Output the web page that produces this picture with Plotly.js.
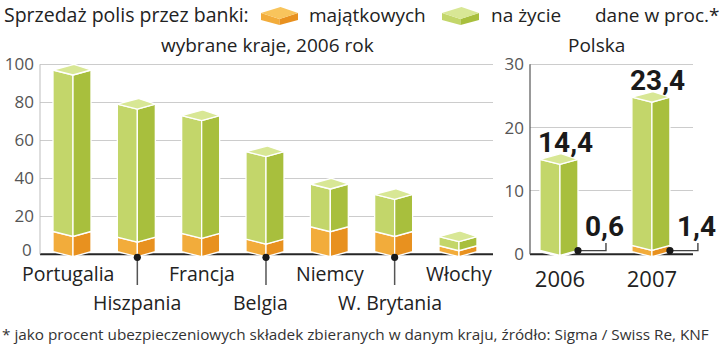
<!DOCTYPE html>
<html><head><meta charset="utf-8">
<script src="https://cdn.plot.ly/plotly-3.0.1.min.js"></script>
<style>html,body{margin:0;padding:0;background:#fff}</style>
</head><body><div id="chart" style="width:720px;height:352px"></div>
<script>
// ---------- data ----------
const countries = ['Portugalia','Hiszpania','Francja','Belgia','Niemcy','W. Brytania','Włochy'];
const propertyShare = [12, 9, 11, 8, 14.5, 12, 4.5];     // majątkowych
const lifeShare     = [85, 70, 62, 46, 22.5, 19.5, 4.8]; // na życie
const years = ['2006', '2007'];
const plProperty = [0.6, 1.4];
const plLife = [14.4, 23.4];
const leftTicks = [0, 20, 40, 60, 80, 100];
const rightTicks = [0, 10, 20, 30];

// ---------- geometry / style ----------
const W = 720, H = 352;
const px = x => x / W, py = y => 1 - y / H;
const baseY = 254.3, topY = 64.3, domBot = 262, domTop = 58;
const FONT = 'Open Sans';
const G = {l:'#c3d66a', r:'#a8bf3d', t:'#d8e795'};
const O = {l:'#f2ac3b', r:'#e8911f', t:'#f8c45c'};

function panel(x0, x1, xr, vmax){
  const ppy = (baseY - topY) / vmax;
  const yr = [-(domBot - baseY) / ppy, vmax + (topY - domTop) / ppy];
  const ppx = (x1 - x0) / (xr[1] - xr[0]);
  return {x0, x1, xr, yr, ppx, ppy, toPx: v => x0 + (v - xr[0]) * ppx};
}
const PL = panel(40, 493, [-0.513, 6.529], 100);
const PR = panel(530, 693, [-0.326, 1.447], 30);

function faces(v0s, v1s, P){
  const wl = 20 / P.ppx, wr = 18 / P.ppx, bx = 1 / P.ppx;
  const d = 5 / P.ppy, b = 5.7 / P.ppy, lift = 2.6 / P.ppy;
  const L = {x:[], y:[]}, R = {x:[], y:[]}, T = {x:[], y:[]};
  v0s.forEach((v0, i) => {
    const lo = v0 === 0 ? lift : v0, hi = v1s[i];
    L.x.push(i-wl, i, i, i-wl, i-wl, null); L.y.push(hi, hi-d, lo-d, lo, hi, null);
    R.x.push(i, i+wr, i+wr, i, i, null);    R.y.push(hi-d, hi, lo, lo-d, hi-d, null);
    T.x.push(i-wl, i+bx, i+wr, i, i-wl, null); T.y.push(hi, hi+b, hi, hi-d, hi, null);
  });
  return {L, R, T};
}
function poly(f, color, xa, ya){
  return {type:'scatter', mode:'lines', x:f.x, y:f.y, xaxis:xa, yaxis:ya,
    fill:'toself', fillcolor:color, line:{color:'#ffffff', width:1.3},
    hoverinfo:'skip', showlegend:false};
}
const zeros = a => a.map(() => 0);
const sum = (a, b) => a.map((v, i) => v + b[i]);

const traces = [];
function addPanel(prop, life, P, xa, ya){
  traces.push({type:'scatter', mode:'lines', x:P.xr, y:[0, 0], xaxis:xa, yaxis:ya,
    line:{color:'#262626', width:2}, hoverinfo:'skip', showlegend:false});
  const o = faces(zeros(prop), prop, P);
  const g = faces(prop, sum(prop, life), P);
  traces.push(poly(o.L, O.l, xa, ya), poly(o.R, O.r, xa, ya),
              poly(g.L, G.l, xa, ya), poly(g.R, G.r, xa, ya), poly(g.T, G.t, xa, ya));
}
addPanel(propertyShare, lifeShare, PL, 'x', 'y');
addPanel(plProperty, plLife, PR, 'x2', 'y2');

// ---------- shapes ----------
const dot = (x, y) => ({type:'circle', xref:'paper', yref:'paper', xsizemode:'pixel', ysizemode:'pixel',
  xanchor:px(x), yanchor:py(y), x0:-3.6, x1:3.6, y0:-3.6, y1:3.6, fillcolor:'#1a1a1a', line:{width:0}});
const shapes = [
  {type:'line', xref:'paper', yref:'paper', x0:px(40), x1:px(40), y0:py(baseY), y1:py(topY), line:{color:'#bdbdbd', width:1}},
  {type:'line', xref:'paper', yref:'paper', x0:px(530), x1:px(530), y0:py(baseY), y1:py(topY), line:{color:'#555', width:1.2}}
];
countries.forEach((c, i) => {
  if (i % 2 === 1){
    const x = PL.toPx(i);
    shapes.push({type:'line', xref:'paper', yref:'paper', x0:px(x), x1:px(x), y0:py(257), y1:py(285), line:{color:'#555', width:1.5}});
    shapes.push(dot(x, 257.3));
  }
});
years.forEach((yr, i) => {
  const x = PR.toPx(i);
  shapes.push({type:'path', xref:'paper', yref:'paper',
    path:`M ${px(x+18)} ${py(250.6)} L ${px(x+46)} ${py(250.6)} L ${px(x+46)} ${py(243)}`, line:{color:'#444', width:1.4}});
  shapes.push(dot(x + 18, 250.6));
});
function cube(x0, col){
  const x = v => px(x0 + v), y = v => py(v);
  const w = 37, m = 18.5;
  return [
    {type:'path', xref:'paper', yref:'paper', path:`M ${x(0)} ${y(13)} L ${x(m)} ${y(19)} L ${x(m)} ${y(25)} L ${x(0)} ${y(20)} Z`, fillcolor:col.l, line:{width:0}},
    {type:'path', xref:'paper', yref:'paper', path:`M ${x(m)} ${y(19)} L ${x(w)} ${y(13)} L ${x(w)} ${y(20)} L ${x(m)} ${y(25)} Z`, fillcolor:col.r, line:{width:0}},
    {type:'path', xref:'paper', yref:'paper', path:`M ${x(0)} ${y(13)} L ${x(m+1)} ${y(7)} L ${x(w)} ${y(13)} L ${x(m)} ${y(19)} Z`, fillcolor:col.t, line:{width:0}}
  ];
}
shapes.push(...cube(261, O), ...cube(442, G));

// ---------- annotations ----------
const ann = [];
const txt = (text, x, y, size, opts = {}) => ann.push(Object.assign({
  text, x:px(x), y:py(y), xref:'paper', yref:'paper', showarrow:false,
  xanchor:'left', yanchor:'middle', font:{family:FONT, size, color:'#222'}}, opts));
txt('Sprzedaż polis przez banki:', 2, 15, 19.5);
txt('majątkowych', 307, 15, 19);
txt('na życie', 489, 15, 19);
txt('dane w proc.*', 593, 15, 19);
txt('wybrane kraje, 2006 rok', 267, 45, 19, {xanchor:'center'});
txt('Polska', 596, 45, 19, {xanchor:'center'});
txt('* jako procent ubezpieczeniowych składek zbieranych w danym kraju, źródło: Sigma / Swiss Re, KNF', 0, 334, 15.3, {font:{family:FONT, size:15.3, color:'#333'}});

const tickFont = {family:FONT, size:17, color:'#555'};
// left "0" tick label is lifted above the baseline, as in the source
ann.push({text:String(leftTicks[0]), x:px(34), y:0, yref:'y', yshift:5, xref:'paper', showarrow:false,
  xanchor:'right', yanchor:'middle', font:tickFont});

const labelShift = [-5, 0, 0, -5, 0, -5, 0];
countries.forEach((c, i) => ann.push({text:c, x:i, xref:'x', xshift:labelShift[i],
  y:py(i % 2 ? 302 : 273), yref:'paper', showarrow:false, xanchor:'center', yanchor:'middle',
  font:{family:FONT, size:19.5, color:'#222'}}));

const fmt = v => v.toFixed(1).replace('.', ',');
const bold = {family:'Roboto', size:28, color:'#1a1a1a', weight:'bold'};
years.forEach((yr, i) => {
  ann.push({text:fmt(plLife[i]), x:i, xref:'x2', xshift:6, y:plLife[i] + plProperty[i], yref:'y2',
    yshift:17, showarrow:false, xanchor:'center', yanchor:'middle', font:bold});
  ann.push({text:fmt(plProperty[i]), x:i, xref:'x2', xshift:45, y:py(226), yref:'paper',
    showarrow:false, xanchor:'center', yanchor:'middle', font:bold});
});

const axisY = (P, ticks, anchor, labels) => ({domain:[py(domBot), py(domTop)], range:P.yr, tickvals:ticks,
  ticktext:labels, showgrid:true, gridcolor:'#cccccc', gridwidth:1, zeroline:false, showline:false, ticks:'',
  tickfont:tickFont, ticklabelstandoff:5, anchor, fixedrange:true});

const layout = {
  width:W, height:H, margin:{l:0, r:0, t:0, b:0},
  paper_bgcolor:'#fff', plot_bgcolor:'rgba(0,0,0,0)', showlegend:false,
  xaxis:{domain:[px(PL.x0), px(PL.x1)], range:PL.xr, showgrid:false, zeroline:false,
    showticklabels:false, ticks:'', anchor:'y', fixedrange:true},
  yaxis:axisY(PL, leftTicks, 'x', leftTicks.map((v, i) => i === 0 ? '' : String(v))),
  xaxis2:{domain:[px(PR.x0), px(PR.x1)], range:PR.xr, showgrid:false, zeroline:false,
    tickvals:[0, 1], ticktext:years, ticks:'', ticklabelstandoff:2,
    tickfont:{family:FONT, size:22, color:'#222'}, anchor:'y2', fixedrange:true},
  yaxis2:axisY(PR, rightTicks, 'x2', rightTicks.map(String)),
  shapes, annotations:ann
};
Plotly.newPlot('chart', traces, layout, {displayModeBar:false, staticPlot:true});
</script></body></html>
